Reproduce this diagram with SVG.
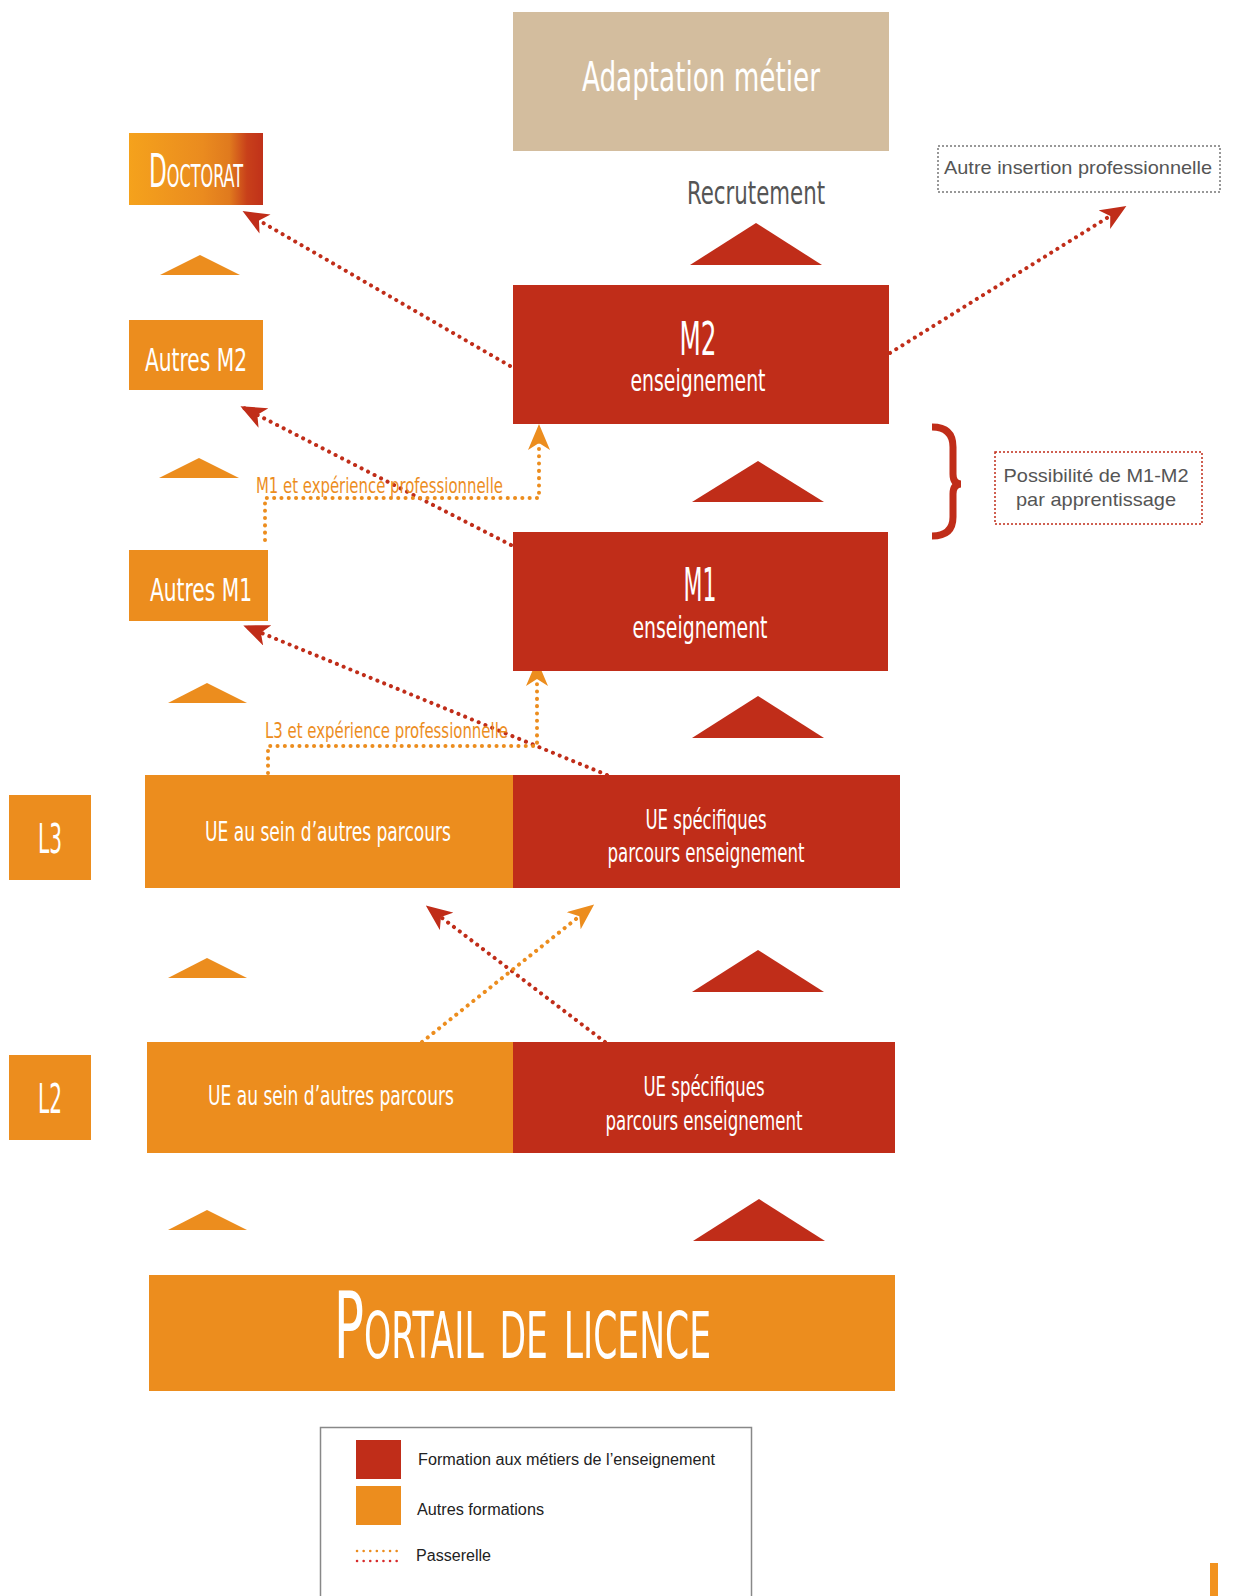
<svg xmlns="http://www.w3.org/2000/svg" width="1241" height="1596" viewBox="0 0 1241 1596">
<style>
.t{font-family:"DejaVu Sans Condensed","DejaVu Sans",sans-serif;font-stretch:condensed;fill:#fff;text-anchor:middle}
.s{text-anchor:start;font-variant:small-caps}
.a{font-family:"Liberation Sans",Arial,sans-serif;fill:#555}
.n{font-family:"Liberation Sans",Arial,sans-serif;fill:#222;font-size:16px}
.o{fill:#EC8D1E}
.r{fill:#C02D19}
.dr{fill:none;stroke:#C02D19;stroke-width:4;stroke-linecap:round;stroke-dasharray:0.1 7.2}
.do{fill:none;stroke:#EC8D1E;stroke-width:4;stroke-linecap:round;stroke-dasharray:0.1 7.2}
.ar{marker-end:url(#mr)}
.ao{marker-end:url(#mo)}
</style>
<defs>
<linearGradient id="gd" x1="0" y1="0" x2="1" y2="0">
<stop offset="0" stop-color="#F5A21C"/>
<stop offset="0.55" stop-color="#EA8B1F"/>
<stop offset="0.75" stop-color="#E07A1E"/>
<stop offset="0.88" stop-color="#C8401A"/>
<stop offset="1" stop-color="#C0311A"/>
</linearGradient>
<marker id="mr" markerUnits="userSpaceOnUse" markerWidth="26" markerHeight="22" refX="22" refY="11" orient="auto">
<path d="M0,0 L26,11 L0,22 L7,11 z" fill="#C02D19"/>
</marker>
<marker id="mo" markerUnits="userSpaceOnUse" markerWidth="26" markerHeight="22" refX="22" refY="11" orient="auto">
<path d="M0,0 L26,11 L0,22 L7,11 z" fill="#EC8D1E"/>
</marker>
</defs>
<rect width="1241" height="1596" fill="#fff"/>

<g id="connectors">
<path class="dr ar" d="M510,366 L246,213"/>
<path class="dr ar" d="M890,353 L1123,208"/>
<path class="dr ar" d="M511,545 L244,408"/>
<path class="dr ar" d="M607,775 L247,627"/>
<path class="dr ar" d="M605,1042 L429,908"/>
<path class="do ao" d="M422,1042 L591,907"/>
<path class="do ao" d="M265,540 L265,498 L539,498 L539,428"/>
<path class="do ao" d="M268,773 L268,746 L537,746 L537,664"/>
<text x="256" y="493" font-family="DejaVu Sans Condensed,DejaVu Sans,sans-serif" font-size="22" fill="#EC8D1E" textLength="247" lengthAdjust="spacingAndGlyphs">M1 et expérience professionnelle</text>
<text x="265" y="738" font-family="DejaVu Sans Condensed,DejaVu Sans,sans-serif" font-size="22" fill="#EC8D1E" textLength="243" lengthAdjust="spacingAndGlyphs">L3 et expérience professionnelle</text>
</g>

<g id="arrows-up">
<polygon class="r" points="690,265 756,223 822,265"/>
<polygon class="r" points="692,502 758,461 824,502"/>
<polygon class="r" points="692,738 758,696 824,738"/>
<polygon class="r" points="692,992 758,950 824,992"/>
<polygon class="r" points="693,1241 759,1199 825,1241"/>
<polygon class="o" points="160,275 200,255 240,275"/>
<polygon class="o" points="159,478 199,458 239,478"/>
<polygon class="o" points="168,703 207,683 247,703"/>
<polygon class="o" points="168,978 207,958 247,978"/>
<polygon class="o" points="168,1230 207,1210 247,1230"/>
</g>

<g id="adaptation">
<rect x="513" y="12" width="376" height="139" fill="#D3BD9E"/>
<text class="t" x="701" y="91" font-size="40" textLength="238" lengthAdjust="spacingAndGlyphs">Adaptation métier</text>
</g>
<g id="recrutement">
<text class="t" x="756" y="204" font-size="32" style="fill:#555" textLength="138" lengthAdjust="spacingAndGlyphs">Recrutement</text>
</g>
<g id="autre-insertion">
<rect x="938" y="146" width="282" height="46" fill="none" stroke="#777" stroke-width="1.5" stroke-dasharray="2 2"/>
<text class="a" x="944" y="174" font-size="19" textLength="268" lengthAdjust="spacingAndGlyphs">Autre insertion professionnelle</text>
</g>
<g id="doctorat">
<rect x="129" y="133" width="134" height="72" fill="url(#gd)"/>
<text class="t s" x="149" y="187" font-size="46" textLength="94" lengthAdjust="spacingAndGlyphs">Doctorat</text>
</g>
<g id="autres-m2">
<rect x="129" y="320" width="134" height="70" class="o"/>
<text class="t" x="196" y="371" font-size="32" textLength="102" lengthAdjust="spacingAndGlyphs">Autres M2</text>
</g>
<g id="autres-m1">
<rect x="129" y="550" width="139" height="71" class="o"/>
<text class="t" x="201" y="601" font-size="32" textLength="102" lengthAdjust="spacingAndGlyphs">Autres M1</text>
</g>
<g id="m2">
<rect x="513" y="285" width="376" height="139" class="r"/>
<text class="t" x="698" y="355" font-size="46" textLength="37" lengthAdjust="spacingAndGlyphs">M2</text>
<text class="t" x="698" y="391" font-size="30" textLength="135" lengthAdjust="spacingAndGlyphs">enseignement</text>
</g>
<g id="apprentissage">
<path d="M932,427 Q953,427 953,447 L953,474 Q953,484 961,484 Q953,484 953,494 L953,517 Q953,536 932,536" fill="none" stroke="#C02D19" stroke-width="7"/>
<rect x="995" y="452" width="207" height="72" fill="none" stroke="#C02D19" stroke-width="1.5" stroke-dasharray="2 2"/>
<text class="a" x="1096" y="482" font-size="19" text-anchor="middle" textLength="185" lengthAdjust="spacingAndGlyphs">Possibilité de M1-M2</text>
<text class="a" x="1096" y="506" font-size="19" text-anchor="middle" textLength="160" lengthAdjust="spacingAndGlyphs">par apprentissage</text>
</g>
<g id="m1">
<rect x="513" y="532" width="375" height="139" class="r"/>
<text class="t" x="700" y="601" font-size="46" textLength="33" lengthAdjust="spacingAndGlyphs">M1</text>
<text class="t" x="700" y="638" font-size="30" textLength="135" lengthAdjust="spacingAndGlyphs">enseignement</text>
</g>
<g id="l3">
<rect x="9" y="795" width="82" height="85" class="o"/>
<text class="t" x="50" y="853" font-size="40" textLength="24" lengthAdjust="spacingAndGlyphs">L3</text>
<rect x="145" y="775" width="368" height="113" class="o"/>
<text class="t" x="328" y="841" font-size="26" textLength="246" lengthAdjust="spacingAndGlyphs">UE au sein d’autres parcours</text>
<rect x="513" y="775" width="387" height="113" class="r"/>
<text class="t" x="706" y="829" font-size="26" textLength="121" lengthAdjust="spacingAndGlyphs">UE spécifiques</text>
<text class="t" x="706" y="862" font-size="26" textLength="197" lengthAdjust="spacingAndGlyphs">parcours enseignement</text>
</g>
<g id="l2">
<rect x="9" y="1055" width="82" height="85" class="o"/>
<text class="t" x="50" y="1113" font-size="40" textLength="24" lengthAdjust="spacingAndGlyphs">L2</text>
<rect x="147" y="1042" width="366" height="111" class="o"/>
<text class="t" x="331" y="1105" font-size="26" textLength="246" lengthAdjust="spacingAndGlyphs">UE au sein d’autres parcours</text>
<rect x="513" y="1042" width="382" height="111" class="r"/>
<text class="t" x="704" y="1096" font-size="26" textLength="121" lengthAdjust="spacingAndGlyphs">UE spécifiques</text>
<text class="t" x="704" y="1130" font-size="26" textLength="197" lengthAdjust="spacingAndGlyphs">parcours enseignement</text>
</g>
<g id="portail">
<rect x="149" y="1275" width="746" height="116" class="o"/>
<text class="t s" x="334" y="1358" font-size="92" textLength="377" lengthAdjust="spacingAndGlyphs">Portail de licence</text>
</g>
<g id="legende">
<rect x="320.5" y="1427.5" width="431" height="200" fill="none" stroke="#888" stroke-width="1.5"/>
<rect x="356" y="1440" width="45" height="39" class="r"/>
<text class="n" x="418" y="1465" textLength="297" lengthAdjust="spacingAndGlyphs">Formation aux métiers de l’enseignement</text>
<rect x="356" y="1486" width="45" height="39" class="o"/>
<text class="n" x="417" y="1515" textLength="127" lengthAdjust="spacingAndGlyphs">Autres formations</text>
<path d="M357,1551 L399,1551" fill="none" stroke="#EC8D1E" stroke-width="2.5" stroke-linecap="round" stroke-dasharray="0.1 6.5"/>
<path d="M357,1561 L399,1561" fill="none" stroke="#D72B2B" stroke-width="2.5" stroke-linecap="round" stroke-dasharray="0.1 6.5"/>
<text class="n" x="416" y="1561" textLength="75" lengthAdjust="spacingAndGlyphs">Passerelle</text>
</g>
<rect x="1210" y="1563" width="8" height="33" fill="#F29320"/>
</svg>
